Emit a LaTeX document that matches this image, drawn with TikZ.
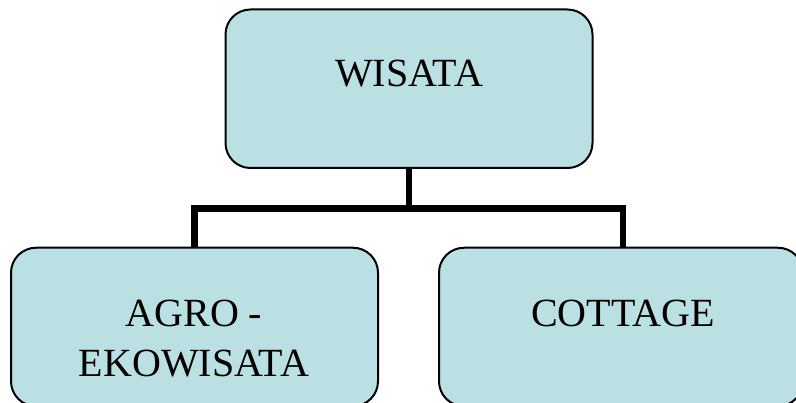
\documentclass[tikz,border=0pt]{standalone}
\usepackage{fontspec}
\setmainfont{Liberation Serif}
\definecolor{boxfill}{RGB}{186,224,227}
\begin{document}
\begin{tikzpicture}[x=1pt,y=-1pt,
  card/.style={draw=black, line width=2pt, fill=boxfill, rounded corners=25pt,
    rectangle, minimum width=367pt, minimum height=158.5pt, inner sep=0pt},
  caption/.style={font=\fontsize{40}{50}\selectfont, inner sep=0pt, align=center},
  link/.style={draw=black, line width=6.5pt, line join=miter}]
  \useasboundingbox (0,0) rectangle (796,403);
  \clip (0,0) rectangle (796,403);

  % boxes
  \node[card] (top)   at (409,88.75) {};
  \node[card] (left)  at (194.5,327)   {};
  \node[card, minimum width=364pt] (right) at (621,327) {};

  % tree connectors
  \coordinate (bus) at (409,208.5);
  \path[link] (top.south) -- (bus);
  \path[link] (left.north) |- (bus) -| ([xshift=2pt]right.north);

  % labels
  \node[caption, anchor=base] (topT) at (409,86.7) {WISATA};
  \node[caption, anchor=base] (leftT) at (194,377) {AGRO -\\EKOWISATA};
  \node[caption, anchor=base] (rightT) at (623,327) {COTTAGE};
\end{tikzpicture}
\end{document}
